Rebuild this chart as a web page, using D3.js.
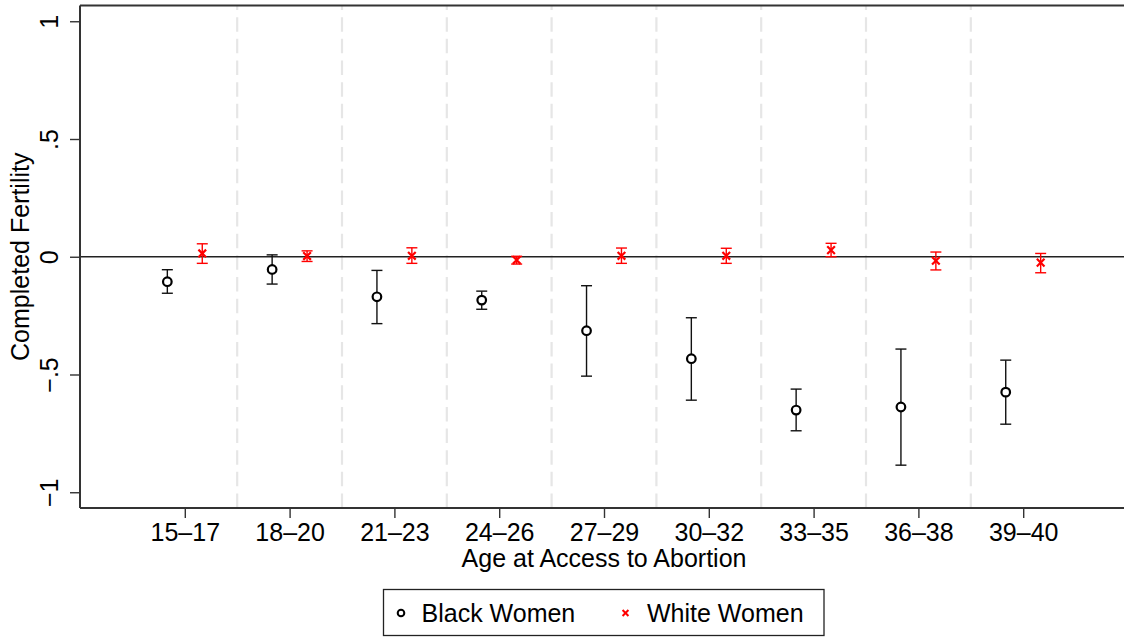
<!DOCTYPE html>
<html>
<head>
<meta charset="utf-8">
<script src="https://cdn.jsdelivr.net/npm/d3@7"></script>
<style>
  html, body { margin: 0; padding: 0; background: #fff; }
  svg { display: block; font-family: "Liberation Sans", Arial, Helvetica, sans-serif; }
</style>
</head>
<body>
<svg id="chart" width="1124" height="637"></svg>
<script>
// Age groups at first access to legal abortion
const ageGroups = ["15–17", "18–20", "21–23", "24–26", "27–29", "30–32", "33–35", "36–38", "39–40"];

// Estimated effect on completed fertility, with confidence bounds
const blackEst = [-0.106, -0.054, -0.170, -0.184, -0.314, -0.433, -0.651, -0.638, -0.575];
const blackLo  = [-0.155, -0.116, -0.284, -0.223, -0.507, -0.609, -0.739, -0.885, -0.711];
const blackHi  = [-0.055,  0.008, -0.058, -0.146, -0.123, -0.259, -0.562, -0.392, -0.439];

const whiteEst = [ 0.014,  0.003,  0.004, -0.014,  0.004,  0.004,  0.028, -0.017, -0.025];
const whiteLo  = [-0.028, -0.020, -0.028, -0.031, -0.028, -0.028,  0.000, -0.056, -0.068];
const whiteHi  = [ 0.055,  0.025,  0.038,  0.002,  0.037,  0.036,  0.057,  0.020,  0.014];

const yTicks = [-1, -0.5, 0, 0.5, 1];
const yTickLabels = ["−1", "−.5", "0", ".5", "1"];

const legendItems = ["Black Women", "White Women"];

const svg = d3.select("#chart");
const plotLeft = 80, plotTop = 5.5, plotBottom = 508;
const step = 104.8;

const x = d3.scaleLinear().domain([0, ageGroups.length + 1]).range([plotLeft, plotLeft + step * (ageGroups.length + 1)]);
const y = d3.scaleLinear().domain([-1.0669, 1.0669]).range([plotBottom, plotTop]);

const fontSize = 25;
const axisColor = "#333";

// Dashed separators between age groups
const seps = d3.range(1, ageGroups.length).map(i => i + 0.5);
svg.append("g").selectAll("line").data(seps).join("line")
  .attr("x1", d => x(d)).attr("x2", d => x(d))
  .attr("y1", plotBottom).attr("y2", plotTop)
  .attr("stroke", "#e6e6e6").attr("stroke-width", 2.2)
  .attr("stroke-dasharray", "14.5,7.15");

// Top border of the plot region
svg.append("line")
  .attr("x1", plotLeft).attr("x2", x(ageGroups.length + 1))
  .attr("y1", plotTop).attr("y2", plotTop)
  .attr("stroke", axisColor).attr("stroke-width", 2);

// Reference line at zero
svg.append("line")
  .attr("x1", plotLeft).attr("x2", x(ageGroups.length + 1))
  .attr("y1", y(0)).attr("y2", y(0))
  .attr("stroke", "#222").attr("stroke-width", 1.3);

// Y axis
const yAxis = d3.axisLeft(y)
  .tickValues(yTicks)
  .tickFormat((d, i) => yTickLabels[i])
  .tickSize(10).tickSizeOuter(0);
const gy = svg.append("g").attr("transform", `translate(${plotLeft},0)`).call(yAxis);
gy.select(".domain").attr("stroke", axisColor).attr("stroke-width", 2)
  .attr("d", `M0,${plotBottom}V${plotTop}`);
gy.selectAll(".tick line").attr("stroke", axisColor).attr("stroke-width", 1.4);
gy.selectAll(".tick text")
  .attr("font-size", fontSize).attr("fill", "#000")
  .attr("font-family", "Liberation Sans, Arial, sans-serif")
  .attr("x", null).attr("dy", null)
  .attr("text-anchor", "middle")
  .attr("transform", "translate(-22,0) rotate(-90)");

// X axis
const xAxis = d3.axisBottom(x)
  .tickValues(d3.range(1, ageGroups.length + 1))
  .tickFormat((d, i) => ageGroups[i])
  .tickSize(10).tickSizeOuter(0);
const gx = svg.append("g").attr("transform", `translate(0,${plotBottom})`).call(xAxis);
gx.select(".domain").attr("stroke", axisColor).attr("stroke-width", 2)
  .attr("d", `M${plotLeft},0H${x(ageGroups.length + 1)}`);
gx.selectAll(".tick line").attr("stroke", axisColor).attr("stroke-width", 1.4);
gx.selectAll(".tick text")
  .attr("font-size", fontSize).attr("fill", "#000")
  .attr("font-family", "Liberation Sans, Arial, sans-serif")
  .attr("y", 33).attr("dy", null);

// Axis titles
svg.append("text")
  .attr("x", (x(1) + x(ageGroups.length)) / 2).attr("y", 567)
  .attr("text-anchor", "middle").attr("font-size", fontSize)
  .text("Age at Access to Abortion");
svg.append("text")
  .attr("transform", `translate(29,${y(0)}) rotate(-90)`)
  .attr("text-anchor", "middle").attr("font-size", fontSize)
  .text("Completed Fertility");

// Series
const off = 1 / 6;
const black = ageGroups.map((g, i) => ({ pos: i + 1 - off, est: blackEst[i], lo: blackLo[i], hi: blackHi[i] }));
const white = ageGroups.map((g, i) => ({ pos: i + 1 + off, est: whiteEst[i], lo: whiteLo[i], hi: whiteHi[i] }));

function errorBars(data, color) {
  const g = svg.append("g").attr("stroke", color).attr("stroke-width", 1.4).attr("fill", "none");
  g.selectAll("line.v").data(data).join("line").attr("class", "v")
    .attr("x1", d => x(d.pos)).attr("x2", d => x(d.pos))
    .attr("y1", d => y(d.lo)).attr("y2", d => y(d.hi));
  g.selectAll("line.t").data(data).join("line").attr("class", "t")
    .attr("x1", d => x(d.pos) - 5.5).attr("x2", d => x(d.pos) + 5.5)
    .attr("y1", d => y(d.hi)).attr("y2", d => y(d.hi));
  g.selectAll("line.b").data(data).join("line").attr("class", "b")
    .attr("x1", d => x(d.pos) - 5.5).attr("x2", d => x(d.pos) + 5.5)
    .attr("y1", d => y(d.lo)).attr("y2", d => y(d.lo));
}
errorBars(black, "#111");
errorBars(white, "#ff0000");

// Hollow circle markers
svg.append("g").selectAll("circle").data(black).join("circle")
  .attr("cx", d => x(d.pos)).attr("cy", d => y(d.est)).attr("r", 4.3)
  .attr("fill", "#fff").attr("stroke", "#000").attr("stroke-width", 2.2);

// Cross markers
const xSym = d3.symbol().type(d3.symbolX).size(40);
svg.append("g").selectAll("path").data(white).join("path")
  .attr("transform", d => `translate(${x(d.pos)},${y(d.est)})`)
  .attr("d", xSym)
  .attr("fill", "none").attr("stroke", "#ff0000").attr("stroke-width", 2.2);

// Legend
const lg = svg.append("g");
lg.append("rect").attr("x", 383.5).attr("y", 589.5).attr("width", 440.5).attr("height", 46)
  .attr("fill", "#fff").attr("stroke", "#222").attr("stroke-width", 1.3);
lg.append("circle").attr("cx", 401).attr("cy", 613).attr("r", 3.3)
  .attr("fill", "#fff").attr("stroke", "#000").attr("stroke-width", 2);
lg.append("text").attr("x", 421.5).attr("y", 621.5).attr("font-size", fontSize).text(legendItems[0]);
lg.append("path").attr("transform", "translate(625.5,613)")
  .attr("d", d3.symbol().type(d3.symbolX).size(24))
  .attr("fill", "none").attr("stroke", "#ff0000").attr("stroke-width", 2);
lg.append("text").attr("x", 647).attr("y", 621.5).attr("font-size", fontSize).text(legendItems[1]);
</script>
</body>
</html>
